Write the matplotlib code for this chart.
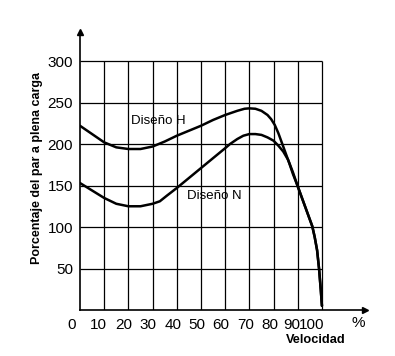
import matplotlib
matplotlib.use("Agg")
import matplotlib.pyplot as plt
import matplotlib.transforms as mtransforms

# Data (velocity %, torque % of full load)
speed_h = [0, 5, 10, 15, 20, 25, 30, 35, 40, 45, 50, 55, 60, 65, 68, 70, 72.5, 75, 77.5, 79, 80.5, 82, 83.5, 85, 86.5, 88, 90, 92, 94, 96, 97, 98, 98.8, 99.5, 100]
torque_h = [222, 212, 202, 196, 194, 194, 197, 203, 210, 216, 222, 229, 235, 240, 242.5, 243, 242.5, 240, 235, 230, 223, 213, 201, 189, 177, 164, 149, 133, 117, 101, 88, 72, 50, 25, 5]

speed_n = [0, 5, 10, 15, 20, 25, 30, 33, 36, 40, 45, 50, 55, 60, 62, 65, 67.5, 70, 72.5, 75, 77.5, 80, 82, 84, 86, 88, 90, 92, 94, 96, 97, 98, 98.8, 99.5, 100]
torque_n = [153, 144, 135, 128, 125, 125, 128, 131, 138, 147, 159, 171, 183, 195, 200, 206, 210, 212, 212, 211, 208, 204, 198, 191, 181, 166, 149, 133, 117, 101, 88, 72, 50, 25, 5]

x_ticks = [0, 10, 20, 30, 40, 50, 60, 70, 80, 90, 100]
x_labels = ["0", "10", "20", "30", "40", "50", "60", "70", "80", "90", "100"]
y_ticks = [50, 100, 150, 200, 250, 300]
y_labels = ["50", "100", "150", "200", "250", "300"]

plt.rcParams['font.family'] = ['Liberation Sans', 'DejaVu Sans']

fig = plt.figure(figsize=(3.95, 3.56), dpi=100)
ax = fig.add_axes([80/395, 46/356, (365-80)/395, (324-46)/356])
ax.set_xlim(0, 117.8)
ax.set_ylim(0, 335)

# grid
ax.vlines(x_ticks[1:], 0, 300, colors='black', lw=0.9)
ax.hlines(y_ticks, 0, 100, colors='black', lw=0.9)

# curves
ax.plot(speed_h, torque_h, color='black', lw=1.8, solid_capstyle='round', solid_joinstyle='round')
ax.plot(speed_n, torque_n, color='black', lw=1.8, solid_capstyle='round', solid_joinstyle='round')

ax.text(21, 228, "Diseño H", fontsize=9.5, va='center', ha='left')
ax.text(44.2, 137, "Diseño N", fontsize=9.5, va='center', ha='left')

# spines
for s in ['top', 'right']:
    ax.spines[s].set_visible(False)
for s in ['left', 'bottom']:
    ax.spines[s].set_linewidth(1.2)
ax.plot([1], [0], marker='>', color='black', markersize=4, transform=ax.transAxes, clip_on=False)
ax.plot([0], [1], marker='^', color='black', markersize=4, transform=ax.transAxes, clip_on=False)

ax.set_xticks(x_ticks)
ax.set_xticklabels(x_labels, fontsize=11)
ax.set_yticks(y_ticks)
ax.set_yticklabels(y_labels, fontsize=11)
ax.tick_params(length=0, pad=5)
ax.tick_params(axis='x', pad=6)

offsets = [-8, -6, -5, -5, -4, -4, -4, -4, -4, -6, -10]
for lab, dx in zip(ax.get_xticklabels(), offsets):
    lab.set_transform(lab.get_transform() + mtransforms.ScaledTranslation(dx/100, 0, fig.dpi_scale_trans))

ax.text(115, -16, "%", fontsize=11, ha='center', va='center', transform=ax.transData, clip_on=False)

fig.text(316/395, 1 - 340/356, "Velocidad", fontsize=9.2, fontweight='bold', ha='center', va='center')
fig.text(37/395, 1 - 168/356, "Porcentaje del par a plena carga", fontsize=9, fontweight='bold',
         ha='center', va='center', rotation=90)

fig.savefig("out.png", dpi=100)
